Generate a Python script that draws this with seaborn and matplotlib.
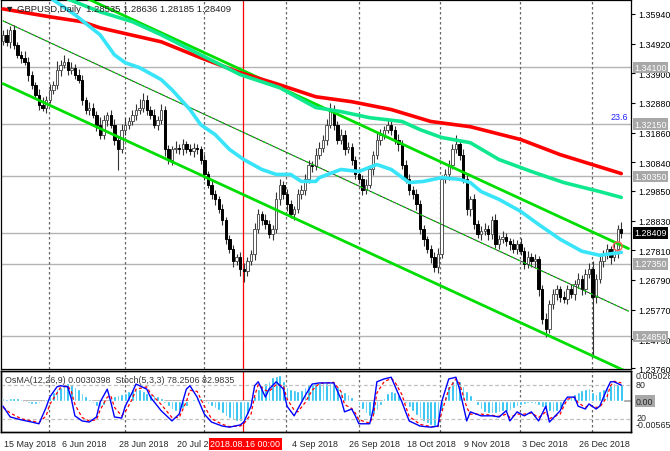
import numpy as np
import pandas as pd
import matplotlib
matplotlib.use("Agg")
import matplotlib.pyplot as plt
import seaborn as sns

sns.set_style("white")
plt.rcParams['font.family'] = ['Liberation Sans', 'DejaVu Sans']

# ---------------- data ----------------
closes = [1.3522,1.3498,1.3539,1.3488,1.3453,1.3443,1.3429,1.3385,1.3350,1.3316,
          1.3282,1.3272,1.3299,1.3333,1.3350,1.3402,1.3419,1.3429,1.3402,1.3409,
          1.3385,1.3368,1.3299,1.3265,1.3272,1.3248,1.3213,1.3179,1.3230,1.3248,
          1.3213,1.3162,1.3128,1.3196,1.3213,1.3224,1.3248,1.3265,1.3272,1.3299,
          1.3265,1.3248,1.3213,1.3230,1.3265,1.3128,1.3093,1.3128,1.3134,1.3128,
          1.3145,1.3128,1.3121,1.3134,1.3128,1.3093,1.3042,1.3007,1.2973,1.2956,
          1.2922,1.2887,1.2819,1.2785,1.2743,1.2757,1.2716,1.2709,1.2743,1.2767,
          1.2853,1.2905,1.2887,1.2870,1.2836,1.2853,1.2956,1.3007,1.2973,1.2939,
          1.2905,1.2922,1.2973,1.2990,1.3025,1.3076,1.3070,1.3110,1.3134,1.3162,
          1.3213,1.3265,1.3213,1.3162,1.3179,1.3128,1.3135,1.3093,1.3042,1.3025,
          1.2990,1.3007,1.3059,1.3110,1.3162,1.3179,1.3196,1.3213,1.3196,1.3162,
          1.3145,1.3076,1.3025,1.2990,1.2973,1.2939,1.2853,1.2819,1.2785,1.2757,
          1.2723,1.2767,1.3025,1.3042,1.3076,1.3128,1.3145,1.3110,1.3025,1.2922,
          1.2956,1.2870,1.2836,1.2846,1.2853,1.2836,1.2887,1.2802,1.2819,1.2826,
          1.2812,1.2802,1.2785,1.2802,1.2778,1.2733,1.2757,1.2743,1.2750,1.2647,
          1.2544,1.2510,1.2596,1.2630,1.2647,1.2620,1.2613,1.2647,1.2630,1.2664,
          1.2682,1.2647,1.2699,1.2716,1.2620,1.2682,1.2743,1.2767,1.2785,1.2757,
          1.2785,1.2853,1.28409]
first_open = 1.3500
upper_wick_pips = [15,20,12,18,10,14,22,16,12,10,18,25,14,20,12,30,16,22,14,18,
                   12,20,15,10,18,14,12,25,16,10,14,20,12,18,22,16,14,20,30,24,
                   16,12,18,14,20,12,16,10,22,14,18,12,20,16,14,10,18,12,16,14,
                   12,18,10,14,16,12,18,20,14,16,22,18,12,20,14,16,24,18,14,20,
                   16,12,18,14,20,16,12,22,18,14,20,24,16,12,18,14,20,16,12,18,
                   14,20,16,12,22,18,14,16,20,12,18,14,16,20,12,18,14,16,12,14,
                   18,22,14,20,16,18,31,14,20,16,12,18,14,20,22,16,12,18,14,20,
                   16,12,18,14,20,16,22,14,18,12,16,20,14,18,16,12,20,14,18,16,
                   22,14,18,20,30,16,24,14,18,12,20,16,27]
lower_wick_pips = [12,16,20,14,10,18,12,22,16,14,20,12,18,10,16,14,20,12,18,14,
                   16,12,20,14,18,12,22,16,14,20,12,18,70,14,20,16,12,18,14,16,
                   20,14,12,18,16,22,14,20,12,16,18,14,12,20,16,14,18,12,16,20,
                   14,18,16,12,20,14,22,38,16,12,18,14,20,16,12,18,14,20,16,22,
                   14,18,12,16,20,14,18,12,16,14,20,12,18,16,14,20,12,18,16,14,
                   20,16,12,18,14,20,16,12,18,14,22,16,12,20,14,18,16,22,14,20,
                   18,20,14,12,18,16,14,20,12,18,22,16,14,18,12,20,16,14,18,12,
                   16,20,14,18,12,16,14,20,18,22,16,27,14,18,20,16,14,18,12,20,
                   14,18,16,12,200,20,14,18,16,22,14,30,16]

ma200_bar = [0,13,22,27,44,55,66,77,87,97,108,119,130,144,155,172]
ma200_val = [1.3611,1.3584,1.3567,1.3546,1.3498,1.3443,1.3392,1.3350,1.3309,1.3292,
             1.3265,1.3224,1.3206,1.3162,1.3110,1.3045]
ma144_bar = [15,27,36,44,55,66,77,87,94,102,111,116,122,130,138,147,156,166,172]
ma144_val = [1.3660,1.3601,1.3567,1.3522,1.3453,1.3385,1.3340,1.3272,1.3258,1.3237,
             1.3224,1.3196,1.3169,1.3151,1.3093,1.3052,1.3014,1.2983,1.2963]
ma50_bar = [12,20,27,31,34,38,44,47,52,55,59,63,67,72,76,80,83,87,88,94,99,104,108,
            113,117,122,127,130,133,138,144,149,155,161,166,172]
ma50_val = [1.3659,1.3591,1.3522,1.3453,1.3426,1.3409,1.3368,1.3333,1.3265,1.3213,
            1.3179,1.3128,1.3093,1.3059,1.3042,1.3042,1.3018,1.3018,1.3031,1.3059,
            1.3052,1.3076,1.3059,1.3014,1.3018,1.3031,1.3025,1.3014,1.2983,1.2956,
            1.2915,1.2870,1.2819,1.2778,1.2764,1.2774]

chan_upper_bar = [16, 174]
chan_upper_val = [1.3689, 1.2787]
chan_lower_bar = [0, 174]
chan_lower_val = [1.3354, 1.2361]
chan_mid_bar = [0, 174]
chan_mid_val = [1.3570, 1.2572]

levels = [1.34100, 1.32150, 1.30350, 1.27350, 1.24850]
last_price = 1.28409
price_ticks = [1.35940,1.34920,1.33900,1.32880,1.31860,1.30840,1.29850,1.28830,
               1.27810,1.26790,1.25770,1.24750,1.23760]

osma_e3 = [0.6,0.4,0.6,0.6,0.6,0.4,0,-0.4,-0.6,-0.6,-0.4,0,0.4,1.0,1.9,2.5,2.9,3.3,3.7,3.5,
           2.9,2.5,1.7,1.0,0.4,-0.4,-1.0,-1.2,-0.8,-0.2,0.6,1.0,1.2,1.5,1.7,2.1,2.5,2.7,2.5,2.1,
           1.7,1.5,1.2,1.0,0.6,-0.4,-1.0,-1.7,-2.1,-1.9,-1.5,-1.0,0.2,0.4,0.6,0.6,0,-0.6,-1.0,-1.5,
           -1.9,-2.5,-3.1,-3.5,-3.9,-4.2,-4.2,-3.9,-2.7,-1.0,1.0,2.5,3.3,3.7,4.2,5.0,5.2,5.4,4.2,2.9,
           2.5,2.3,2.1,2.3,2.9,3.3,3.5,3.7,3.7,3.7,3.7,3.7,3.7,2.9,2.3,1.9,1.5,0.8,0.2,-0.8,
           -1.7,-2.5,-3.1,-2.7,-1.9,-0.8,0.6,1.7,2.1,1.9,1.2,0.4,-0.4,-1.2,-2.1,-2.9,-3.5,-4.2,-4.6,-5.0,
           -5.2,-4.6,-2.1,1.0,3.1,4.2,4.6,4.2,3.1,2.1,1.2,0.4,-0.8,-1.7,-2.3,-2.5,-2.5,-2.5,-2.3,-2.1,
           -2.1,-1.9,-1.5,-1.0,-0.8,-0.6,-0.4,-0.4,-0.6,-0.8,-1.2,-1.7,-2.1,-2.3,-2.1,-1.5,-0.6,0.4,1.0,1.5,
           1.9,2.3,2.5,2.7,1.9,1.5,2.1,2.5,2.9,3.3,3.7,3.5,3.5]

stoch_bar = [0,2,5,8,10,12,13,15,16,18,19,20,22,24,26,27,29,30,31,33,34,36,37,40,41,44,47,49,
             51,52,54,56,58,61,63,66,67,69,70,71,73,74,76,78,79,81,82,84,86,88,92,94,95,97,98,
             99,102,103,104,106,108,109,111,112,113,116,119,121,122,124,126,127,129,130,133,136,
             138,140,141,143,145,147,149,151,152,155,156,157,159,160,162,163,165,166,168,169,170,172]
stoch_main = [42,23,18,14,11,40,58,76,78,76,55,25,16,14,23,49,72,49,23,21,42,67,81,72,58,34,16,28,
              72,78,58,28,14,7,5,9,14,42,78,85,58,72,85,72,42,25,37,60,81,83,83,55,32,37,25,
              11,11,37,85,90,93,78,49,32,16,7,5,7,49,90,93,72,16,32,25,25,
              23,34,16,32,25,32,16,42,14,34,49,58,58,42,37,46,37,42,72,85,85,79]
stoch_signal = [40,30,20,16,13,25,45,65,75,78,68,45,22,16,18,35,58,60,40,25,32,55,72,76,65,45,22,22,
                50,70,68,42,20,10,6,7,11,28,60,80,70,68,80,78,55,35,32,48,70,82,84,68,45,38,30,
                18,12,25,65,85,91,85,62,42,24,10,6,6,30,72,90,82,40,28,28,26,
                24,28,22,28,28,30,22,32,20,28,42,54,58,48,40,44,40,40,58,78,86,83]

date_bar = [0,16,32,48,80,96,112,128,144,160]
date_lab = ["15 May 2018","6 Jun 2018","28 Jun 2018","20 Jul 2018","4 Sep 2018",
            "26 Sep 2018","18 Oct 2018","9 Nov 2018","3 Dec 2018","26 Dec 2018"]
grid_bar = [12.8,33.9,55.8,78.6,99.0,121.7,143.9,163.9]
marker_bar = 66.7

# ---------------- figure ----------------
W, H = 670, 452
FS = 6.4
fig = plt.figure(figsize=(W/100, H/100), dpi=100)
fig.patch.set_facecolor("white")
R = 631/W
ax = fig.add_axes([0.0015, 1-370/H, R-0.0015, 370/H-0.002])
axi = fig.add_axes([0.0015, 1-433/H, R-0.0015, 61/H])
XL = (-0.56, 174.7)
YL = (1.2373, 1.3642)

n = len(closes)
idx = np.arange(n)
opens = [first_open] + closes[:-1]
for i in range(n):
    o, c = opens[i], closes[i]
    hi = max(o, c) + upper_wick_pips[i]*1e-4
    lo = min(o, c) - lower_wick_pips[i]*1e-4
    ax.vlines(i, lo, hi, color="#333333", lw=0.8, zorder=3)
    bull = c >= o
    ax.bar(i, abs(c-o) if abs(c-o) > 0.00015 else 0.00015, bottom=min(o, c), width=0.66,
           color="white" if bull else "black", edgecolor="#555555" if bull else "black",
           lw=0.7, zorder=4)

for lv in levels + [last_price]:
    ax.axhline(lv, color="#b4b4b4", lw=1.0, zorder=1)
for g in grid_bar:
    ax.axvline(g, color="#666666", lw=0.9, ls=(0, (2, 2)), zorder=1)
    axi.axvline(g, color="#666666", lw=0.9, ls=(0, (2, 2)), zorder=1)
ax.axvline(marker_bar, color="red", lw=0.9, zorder=2)
axi.axvline(marker_bar, color="red", lw=0.9, zorder=2)

sns.lineplot(x=chan_upper_bar, y=chan_upper_val, ax=ax, color="#00dd00", lw=2.0, zorder=5)
sns.lineplot(x=chan_lower_bar, y=chan_lower_val, ax=ax, color="#00dd00", lw=2.0, zorder=5)
sns.lineplot(x=chan_mid_bar, y=chan_mid_val, ax=ax, color="#333333", lw=0.7, zorder=5)
sns.lineplot(x=chan_mid_bar, y=chan_mid_val, ax=ax, color="#00dd00", lw=0.8, ls=(0, (3, 3)), zorder=5)
sns.lineplot(x=ma200_bar, y=ma200_val, ax=ax, color="#ff0000", lw=2.6, zorder=6)
sns.lineplot(x=ma144_bar, y=ma144_val, ax=ax, color="#10e890", lw=2.6, zorder=6)
sns.lineplot(x=ma50_bar, y=ma50_val, ax=ax, color="#38e4f8", lw=2.6, zorder=6)
ax.scatter([171], [1.2795], s=40, facecolors="none", edgecolors="#ff6060", lw=1.0, zorder=7)

ax.set_xlim(*XL); ax.set_ylim(*YL)
ax.set_xticks([]); ax.set_ylabel(""); ax.set_xlabel("")
ax.yaxis.tick_right()
ax.set_yticks(price_ticks)
ax.set_yticklabels([f"{p:.5f}" for p in price_ticks], fontsize=FS)
ax.tick_params(axis="y", length=3, width=0.8, pad=2, colors="black")
for s in ax.spines.values():
    s.set_color("black"); s.set_linewidth(0.9)

bb = dict(boxstyle="square,pad=0.15", lw=0)
for lv in levels:
    ax.text(1.005, lv, f"{lv:.5f}", transform=ax.get_yaxis_transform(), fontsize=FS,
            color="white", va="center", ha="left", bbox=dict(bb, fc="#a8a8a8"), zorder=10, clip_on=False)
ax.text(1.005, last_price, f"{last_price:.5f}", transform=ax.get_yaxis_transform(), fontsize=FS,
        color="white", va="center", ha="left", bbox=dict(bb, fc="black"), zorder=10, clip_on=False)
ax.text(0.995, 1.3226, "23.6", transform=ax.get_yaxis_transform(), fontsize=FS, color="#2020ff",
        ha="right", va="bottom")
ax.text(0.006, 0.988, "\u25bc GBPUSD,Daily  1.28535 1.28636 1.28185 1.28409", transform=ax.transAxes,
        fontsize=6.8, color="#222222", va="top", ha="left", zorder=10)

# indicator panel
axo = axi.twinx()
axo.bar(idx, [v*1e-3 for v in osma_e3], width=0.75, color="#10baf0", zorder=2)
axo.axhline(0, color="#a0a0a0", lw=1.2, zorder=1)
axo.set_ylim(-0.00646, 0.00625)
axo.set_yticks([]); axo.set_xlim(*XL)
ax_st = axo.twinx()
sns.lineplot(x=stoch_bar, y=stoch_signal, ax=ax_st, color="red", lw=0.9, ls=(0, (2.5, 2)))
sns.lineplot(x=stoch_bar, y=stoch_main, ax=ax_st, color="#0000ff", lw=1.0)
ax_st.set_ylim(-3.5, 104); ax_st.set_xlim(*XL); ax_st.set_yticks([]); ax_st.set_ylabel("")
for lv in (80, 20):
    ax_st.axhline(lv, color="#c0c0c0", lw=0.9, ls=(0, (3, 2)), zorder=0)
axi.set_xlim(*XL); axi.set_ylim(-3.5, 104)
axi.set_xticks([]); axi.set_yticks([])
for a in (axi, axo, ax_st):
    for s in a.spines.values():
        s.set_color("black"); s.set_linewidth(0.9)
    a.set_ylabel("")
ax_st.text(0.006, 0.93, "OsMA(12,26,9) 0.0030398  Stoch(5,3,3) 78.2506 82.9835", transform=ax_st.transAxes,
           fontsize=FS, color="#333333", va="top", ha="left", zorder=10)
tr = ax_st.get_yaxis_transform()
ax_st.text(1.008, 96, "0.0050285", transform=tr, fontsize=FS, va="center", ha="left", clip_on=False)
ax_st.text(1.008, 80, "80", transform=tr, fontsize=FS, va="center", ha="left", clip_on=False)
ax_st.text(1.008, 51, "0.00", transform=tr, fontsize=FS, va="center", ha="left", clip_on=False,
           bbox=dict(bb, fc="#a8a8a8"))
ax_st.text(1.008, 22, "20", transform=tr, fontsize=FS, va="center", ha="left", clip_on=False)
ax_st.text(1.008, 10, "-0.005656", transform=tr, fontsize=FS, va="center", ha="left", clip_on=False)

# dates
xt = axi.get_xaxis_transform()
for b, lab in zip(date_bar, date_lab):
    axi.text(b + 0.3, -0.12, lab, transform=xt, fontsize=FS, va="top", ha="left", clip_on=False)
axi.text(marker_bar - 9, -0.12, "2018.08.16 00:00", transform=xt, fontsize=FS, color="white",
         va="top", ha="left", clip_on=False, zorder=20,
         bbox=dict(boxstyle="square,pad=0.2", fc="red", lw=0))

fig.savefig("out.png", dpi=100, facecolor="white")
